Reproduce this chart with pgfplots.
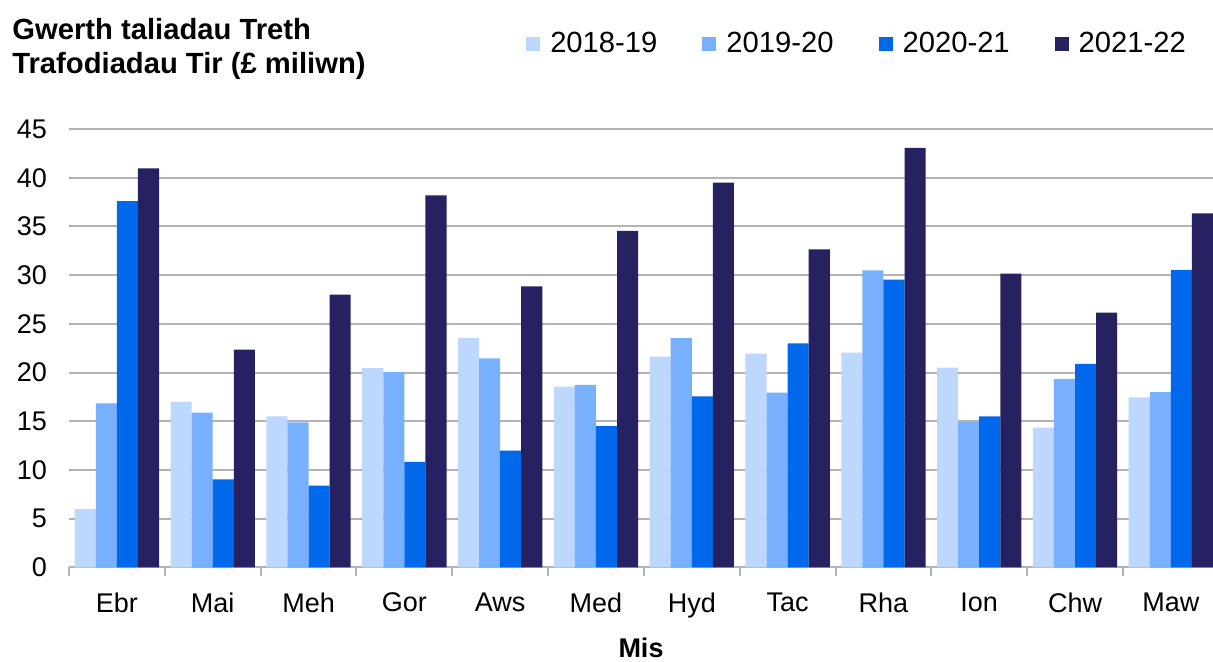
\documentclass[border=0pt]{standalone}
\usepackage{fontspec}
\setmainfont{Liberation Sans}
\usepackage{pgfplots}
\pgfplotsset{compat=1.18}
\definecolor{cA}{HTML}{BDD7FF}
\definecolor{cB}{HTML}{78B0FE}
\definecolor{cC}{HTML}{0068EA}
\definecolor{cD}{HTML}{262262}
\definecolor{gridc}{HTML}{B3B3B3}
\begin{document}
\begin{tikzpicture}
\path[use as bounding box] (0,0) rectangle (606.5pt,331pt);
\clip (0,0) rectangle (606.5pt,331pt);
\node[anchor=base west, font=\fontsize{14.6}{16}\selectfont\bfseries, inner sep=0pt] at (6pt,311.3pt) {Gwerth taliadau Treth};
\node[anchor=base west, font=\fontsize{14.6}{16}\selectfont\bfseries, inner sep=0pt] at (6pt,294.3pt) {Trafodiadau Tir (£ miliwn)};
\begin{axis}[
  at={(34.5pt,47.25pt)}, anchor=south west,
  width=572pt, height=219.25pt, scale only axis,
  ybar=0pt, bar width=0.22,
  xmin=-0.5, xmax=11.44, ymin=0, ymax=45,
  enlargelimits=false,
  xtick={0,...,11},
  xticklabels={Ebr,Mai,Meh,Gor,Aws,Med,Hyd,Tac,Rha,Ion,Chw,Maw},
  ytick={0,5,...,45},
  major tick length=0pt,
  xtick style={draw=none},
  extra x ticks={-0.5,0.5,...,10.5},
  extra x tick labels={},
  extra x tick style={grid=none, tick align=outside, major tick length=4.5pt,
     xtick style={draw=gridc, line width=1pt}},
  ymajorgrids, major grid style={draw=gridc, line width=1pt},
  axis x line*=bottom, axis y line*=left,
  x axis line style={draw=gridc, line width=1pt, -},
  y axis line style={draw=none},
  tick label style={font=\fontsize{13.5}{16}\selectfont},
  /pgf/number format/assume math mode=true,
  xticklabel style={yshift=-9.25pt},
  yticklabel style={xshift=-7.5pt},
  xlabel={Mis},
  xlabel style={font=\fontsize{13.5}{16}\selectfont\bfseries, at={(axis description cs:0.5,0)}, anchor=base, yshift=-45pt, inner sep=0pt},
  legend columns=4,
  legend style={draw=none, fill=none, at={(0.688,1.194)}, anchor=center,
     font=\fontsize{14.6}{16}\selectfont, inner sep=0pt,
     nodes={inner sep=0pt},
     /tikz/every odd column/.append style={column sep=5pt},
     /tikz/every even column/.append style={column sep=22.5pt}},
  legend image code/.code={\fill[#1] (0pt,-3.5pt) rectangle (7pt,3.5pt);},
  clip=true,
]
\addplot[fill=cA, draw=none] coordinates {(0,6.0) (1,17.0) (2,15.5) (3,20.45) (4,23.55) (5,18.55) (6,21.65) (7,21.95) (8,22.05) (9,20.5) (10,14.35) (11,17.45)};
\addplot[fill=cB, draw=none] coordinates {(0,16.85) (1,15.9) (2,14.9) (3,20.05) (4,21.45) (5,18.75) (6,23.55) (7,17.95) (8,30.5) (9,14.95) (10,19.35) (11,18.0)};
\addplot[fill=cC, draw=none] coordinates {(0,37.6) (1,9.05) (2,8.4) (3,10.85) (4,12.0) (5,14.5) (6,17.55) (7,23.0) (8,29.55) (9,15.5) (10,20.9) (11,30.55)};
\addplot[fill=cD, draw=none] coordinates {(0,40.95) (1,22.35) (2,28.0) (3,38.2) (4,28.85) (5,34.55) (6,39.5) (7,32.65) (8,43.05) (9,30.15) (10,26.15) (11,36.35)};
\legend{2018-19,2019-20,2020-21,2021-22}
\end{axis}
\end{tikzpicture}
\end{document}
